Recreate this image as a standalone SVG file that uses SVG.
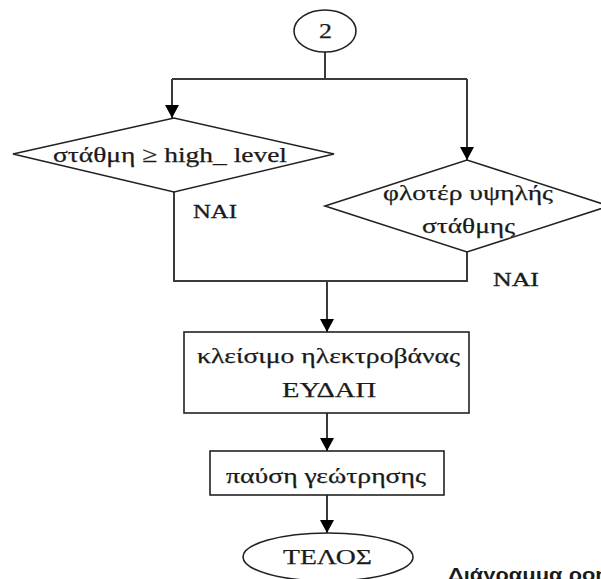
<svg xmlns="http://www.w3.org/2000/svg" width="601" height="579" viewBox="0 0 601 579">
  <style>
    .shape { fill: #ffffff; stroke: #222222; stroke-width: 1.6; }
    .wire { fill: none; stroke: #3a3a3a; stroke-width: 2; }
    .lbl { font-family: "Liberation Serif", "Times New Roman", serif; font-size: 22px; fill: #1a1a1a; stroke: #1a1a1a; stroke-width: 0.25; }
    .yes { font-family: "Liberation Serif", "Times New Roman", serif; font-size: 19px; fill: #1a1a1a; stroke: #1a1a1a; stroke-width: 0.3; }
    .cap { font-family: "Liberation Sans", Arial, sans-serif; font-size: 19px; font-weight: bold; fill: #1a1a1a; }
  </style>
  <defs>
    <marker id="arrow" markerUnits="userSpaceOnUse" markerWidth="16" markerHeight="16" refX="13" refY="7" orient="auto">
      <path d="M0,0 L13,7 L0,14 Z" fill="#000000"/>
    </marker>
  </defs>

  <!-- connectors -->
  <g id="connectors">
    <polyline class="wire" points="325,52 325,79"/>
    <polyline class="wire" points="172,79 467,79"/>
    <line class="wire" x1="172" y1="79" x2="172" y2="118" marker-end="url(#arrow)"/>
    <line class="wire" x1="467" y1="79" x2="467" y2="160" marker-end="url(#arrow)"/>
    <polyline class="wire" points="174,192 174,281 467,281 467,252"/>
    <line class="wire" x1="327" y1="281" x2="327" y2="332" marker-end="url(#arrow)"/>
    <line class="wire" x1="327" y1="413" x2="327" y2="451" marker-end="url(#arrow)"/>
    <line class="wire" x1="327" y1="495" x2="327" y2="533" marker-end="url(#arrow)"/>
    <text class="yes" x="193" y="218" textLength="44" lengthAdjust="spacingAndGlyphs">ΝΑΙ</text>
    <text class="yes" x="493" y="286" textLength="46" lengthAdjust="spacingAndGlyphs">ΝΑΙ</text>
  </g>

  <!-- connector circle -->
  <g id="start">
    <ellipse class="shape" cx="325" cy="31" rx="31" ry="21"/>
    <text class="lbl" x="319" y="38" textLength="13" lengthAdjust="spacingAndGlyphs">2</text>
  </g>

  <!-- level check -->
  <g id="level-check">
    <polygon class="shape" points="13,154 174,118 334,154 174,192"/>
    <text class="lbl" x="53" y="162" textLength="234" lengthAdjust="spacingAndGlyphs">στάθμη ≥ high_ level</text>
  </g>

  <!-- float switch check -->
  <g id="float-check">
    <polygon class="shape" points="325,206 467,160 609,206 467,252"/>
    <text class="lbl" x="383" y="200" textLength="170" lengthAdjust="spacingAndGlyphs">φλοτέρ υψηλής</text>
    <text class="lbl" x="422" y="233" textLength="93" lengthAdjust="spacingAndGlyphs">στάθμης</text>
  </g>

  <!-- close valve -->
  <g id="close-valve">
    <rect class="shape" x="184" y="332" width="285" height="81"/>
    <text class="lbl" x="197" y="363" textLength="263" lengthAdjust="spacingAndGlyphs">κλείσιμο ηλεκτροβάνας</text>
    <text class="lbl" x="282" y="397" textLength="94" lengthAdjust="spacingAndGlyphs">ΕΥΔΑΠ</text>
  </g>

  <!-- stop borehole -->
  <g id="stop-pump">
    <rect class="shape" x="210" y="451" width="234" height="44"/>
    <text class="lbl" x="226" y="483" textLength="200" lengthAdjust="spacingAndGlyphs">παύση γεώτρησης</text>
  </g>

  <!-- end -->
  <g id="end">
    <ellipse class="shape" cx="328" cy="557" rx="85" ry="24"/>
    <text class="lbl" x="283" y="564" textLength="89" lengthAdjust="spacingAndGlyphs">ΤΕΛΟΣ</text>
  </g>

  <!-- caption -->
  <text class="cap" x="448" y="581" transform="translate(448,0) scale(1.15,1) translate(-448,0)">Διάγραμμα ροής</text>
</svg>
